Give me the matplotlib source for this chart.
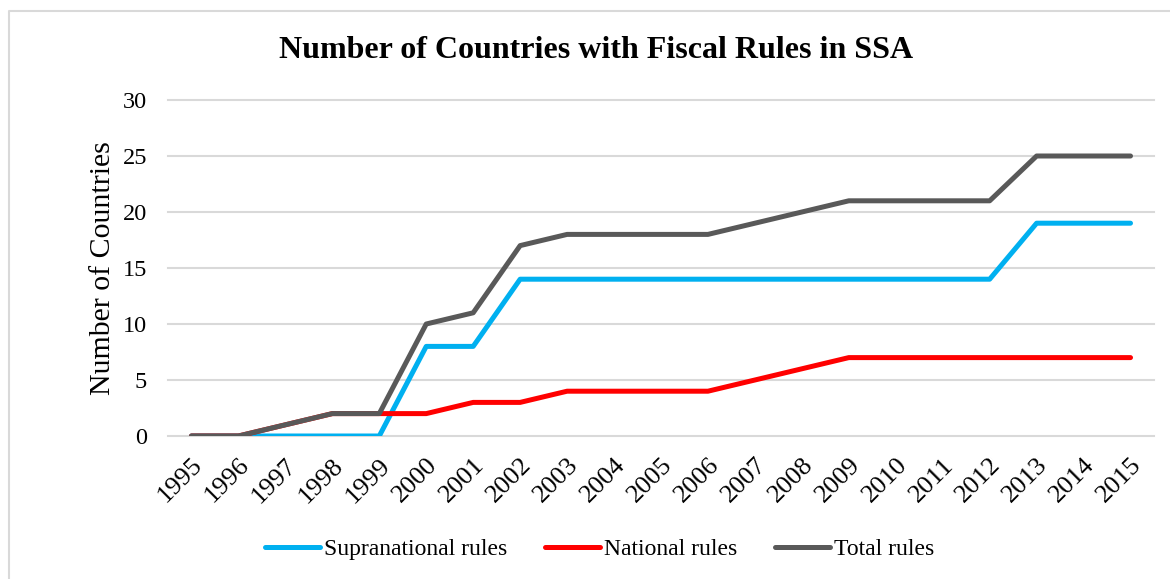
import matplotlib
matplotlib.use("Agg")
import matplotlib.pyplot as plt
from matplotlib.lines import Line2D

years = [str(y) for y in range(1995, 2016)]
supranational = [0, 0, 0, 0, 0, 8, 8, 14, 14, 14, 14, 14, 14, 14, 14, 14, 14, 14, 19, 19, 19]
national = [0, 0, 1, 2, 2, 2, 3, 3, 4, 4, 4, 4, 5, 6, 7, 7, 7, 7, 7, 7, 7]
total = [0, 0, 1, 2, 2, 10, 11, 17, 18, 18, 18, 18, 19, 20, 21, 21, 21, 21, 25, 25, 25]
yticks = [0, 5, 10, 15, 20, 25, 30]

plt.rcParams["font.family"] = ["Liberation Serif", "DejaVu Serif"]

W, H = 1170, 579
fig = plt.figure(figsize=(W / 100, H / 100), dpi=100)
fig.patch.set_facecolor("white")

# plot area in pixel terms
left, right, top, bottom = 168, 1154, 100, 436
ax = fig.add_axes([left / W, 1 - bottom / H, (right - left) / W, (bottom - top) / H])

x = list(range(len(years)))
lw = 3.6
ax.plot(x, supranational, color="#00B0F0", lw=lw, solid_capstyle="round",
        solid_joinstyle="round", label="Supranational rules", zorder=3)
ax.plot(x, national, color="#FF0000", lw=lw, solid_capstyle="round",
        solid_joinstyle="round", label="National rules", zorder=4)
ax.plot(x, total, color="#595959", lw=lw, solid_capstyle="round",
        solid_joinstyle="round", label="Total rules", zorder=5)

ax.set_xlim(-0.5, len(years) - 0.5)
ax.set_ylim(0, 30)
ax.set_yticks(yticks)
ax.set_yticklabels([str(v) for v in yticks], fontsize=17.5)
ax.set_xticks(x)
ax.set_xticklabels(years, fontsize=19, rotation=45, ha="right", va="top",
                   rotation_mode="anchor")
ax.tick_params(axis="both", length=0)
ax.tick_params(axis="y", pad=15)
ax.tick_params(axis="x", pad=13)

for s in ax.spines.values():
    s.set_visible(False)
ax.grid(axis="y", color="#D9D9D9", lw=1.5, zorder=0)
ax.set_axisbelow(True)
for gl in ax.get_ygridlines():
    gl.set_clip_on(False)

ax.set_ylabel("Number of Countries", fontsize=21.5, labelpad=5)

fig.text(596 / W, 1 - 51 / H, "Number of Countries with Fiscal Rules in SSA",
         ha="center", va="center", fontsize=23, fontweight="bold")

leg = fig.legend(loc="center", bbox_to_anchor=(600 / W, 1 - 549 / H), ncol=3,
                 frameon=False, fontsize=17, handlelength=2.3, handletextpad=0.2,
                 columnspacing=1.6)

# chart frame (left and top edges)
fig.add_artist(Line2D([8.5 / W, 8.5 / W, 1.0], [0.0, 1 - 11 / H, 1 - 11 / H],
                      transform=fig.transFigure, color="#D9D9D9", lw=1.5))

fig.savefig("out.png", dpi=100, facecolor="white")
